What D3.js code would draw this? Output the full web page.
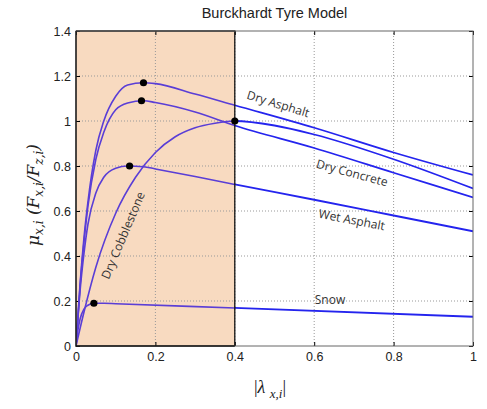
<!DOCTYPE html>
<html>
<head>
<meta charset="utf-8">
<script src="https://cdn.jsdelivr.net/npm/d3@7"></script>
<style>
  body { margin: 0; background: #fff; }
  svg { display: block; font-family: "Liberation Sans", Arial, sans-serif; }
</style>
</head>
<body>
<svg id="chart" width="487" height="409"></svg>
<script>
// Values
const slipGrid = [0, 0.01, 0.02, 0.03, 0.05, 0.07, 0.1, 0.13, 0.17, 0.2, 0.3, 0.4, 0.6, 0.8, 1.0];
const muDryAsphalt = [0, 0.27, 0.48, 0.64, 0.87, 1.0, 1.11, 1.16, 1.17, 1.166, 1.12, 1.07, 0.97, 0.86, 0.76];
const muDryConcrete = [0, 0.26, 0.46, 0.62, 0.83, 0.95, 1.05, 1.08, 1.09, 1.082, 1.04, 0.98, 0.88, 0.77, 0.66];
const muWetAsphalt = [0, 0.24, 0.41, 0.54, 0.68, 0.75, 0.79, 0.80, 0.797, 0.787, 0.753, 0.718, 0.65, 0.58, 0.51];

const slipCobble = [0, 0.02, 0.05, 0.1, 0.15, 0.2, 0.25, 0.3, 0.35, 0.4, 0.5, 0.6, 0.8, 1.0];
const muCobble = [0, 0.15, 0.35, 0.59, 0.75, 0.86, 0.93, 0.97, 0.99, 1.0, 0.98, 0.94, 0.83, 0.70];

const slipSnow = [0, 0.005, 0.01, 0.02, 0.03, 0.045, 0.07, 0.1, 0.4, 1.0];
const muSnow = [0, 0.073, 0.118, 0.164, 0.181, 0.19, 0.19, 0.188, 0.169, 0.13];

const peakSlip = [0.17, 0.165, 0.135, 0.40, 0.045];
const peakMu = [1.17, 1.09, 0.80, 1.00, 0.19];

const xTicks = [0, 0.2, 0.4, 0.6, 0.8, 1];
const yTicks = [0, 0.2, 0.4, 0.6, 0.8, 1, 1.2, 1.4];
const stableLimit = 0.4;

const W = 487, H = 409;
const margin = { top: 31, right: 14, bottom: 63, left: 76 };

const svg = d3.select("#chart");

const x = d3.scaleLinear().domain([0, 1]).range([margin.left, W - margin.right]);
const y = d3.scaleLinear().domain([0, 1.4]).range([H - margin.bottom, margin.top]);

const curves = [
  { xs: slipGrid, ys: muDryAsphalt },
  { xs: slipGrid, ys: muDryConcrete },
  { xs: slipGrid, ys: muWetAsphalt },
  { xs: slipCobble, ys: muCobble },
  { xs: slipSnow, ys: muSnow }
];

const defs = svg.append("defs");
defs.append("clipPath").attr("id", "clip-in")
  .append("rect")
  .attr("x", x(0)).attr("y", y(1.4))
  .attr("width", x(stableLimit) - x(0)).attr("height", y(0) - y(1.4));
defs.append("clipPath").attr("id", "clip-out")
  .append("rect")
  .attr("x", x(stableLimit)).attr("y", y(1.4))
  .attr("width", x(1) - x(stableLimit)).attr("height", y(0) - y(1.4));

// Title
svg.append("text")
  .attr("x", (x(0) + x(1)) / 2).attr("y", 18)
  .attr("text-anchor", "middle")
  .style("font-size", "14.5px")
  .style("fill", "#222")
  .text("Burckhardt Tyre Model");

// Shaded stable region
svg.append("rect")
  .attr("x", x(0)).attr("y", y(1.4))
  .attr("width", x(stableLimit) - x(0)).attr("height", y(0) - y(1.4))
  .style("fill", "#f8dac0");

// Grid
const grid = svg.append("g");
grid.selectAll(".gx").data(xTicks.filter(d => d > 0 && d < 1)).join("line")
  .attr("x1", d => x(d)).attr("x2", d => x(d))
  .attr("y1", y(0)).attr("y2", y(1.4))
  .style("stroke", "#999").style("stroke-dasharray", "1,2");
grid.selectAll(".gy").data(yTicks.filter(d => d > 0 && d < 1.4)).join("line")
  .attr("y1", d => y(d)).attr("y2", d => y(d))
  .attr("x1", x(0)).attr("x2", x(1))
  .style("stroke", "#999").style("stroke-dasharray", "1,2");

// Axes
const xAxis = d3.axisBottom(x).tickValues(xTicks).tickSize(-4).tickPadding(6)
  .tickFormat(d => d === 0 || d === 1 ? d : d3.format(".1f")(d));
const yAxis = d3.axisLeft(y).tickValues(yTicks).tickSize(-4).tickPadding(5)
  .tickFormat(d => d === 0 || d === 1 ? d : d3.format(".1f")(d));

svg.append("g").attr("transform", `translate(0,${y(0)})`).call(xAxis)
  .call(g => g.select(".domain").remove())
  .call(g => g.selectAll("text").style("font-size", "12.5px").style("fill", "#222")
    .style("font-family", "Liberation Sans, Arial, sans-serif"));
svg.append("g").attr("transform", `translate(${x(0)},0)`).call(yAxis)
  .call(g => g.select(".domain").remove())
  .call(g => g.selectAll("text").style("font-size", "12.5px").style("fill", "#222")
    .style("font-family", "Liberation Sans, Arial, sans-serif"));
// ticks on top and right
svg.append("g").attr("transform", `translate(0,${y(1.4)})`)
  .call(d3.axisTop(x).tickValues(xTicks).tickSize(-4).tickFormat(""))
  .call(g => g.select(".domain").remove());
svg.append("g").attr("transform", `translate(${x(1)},0)`)
  .call(d3.axisRight(y).tickValues(yTicks).tickSize(-4).tickFormat(""))
  .call(g => g.select(".domain").remove());

// Curves
const line = d3.line()
  .x(d => x(d[0])).y(d => y(d[1]))
  .curve(d3.curveMonotoneX);

curves.forEach(c => {
  const pts = c.xs.map((v, i) => [v, c.ys[i]]);
  svg.append("path").datum(pts).attr("d", line)
    .attr("clip-path", "url(#clip-in)")
    .style("fill", "none").style("stroke", "#5a3ed6").style("stroke-width", 1.6);
  svg.append("path").datum(pts).attr("d", line)
    .attr("clip-path", "url(#clip-out)")
    .style("fill", "none").style("stroke", "#2424ee").style("stroke-width", 1.8);
});

// Border of the shaded region
svg.append("path")
  .attr("d", `M${x(0)},${y(1.4)}H${x(stableLimit)}V${y(0)}`)
  .style("fill", "none").style("stroke", "#111").style("stroke-width", 1.3);

// Plot frame
svg.append("rect")
  .attr("x", x(0)).attr("y", y(1.4))
  .attr("width", x(1) - x(0)).attr("height", y(0) - y(1.4))
  .style("fill", "none").style("stroke", "#666").style("stroke-width", 1);
svg.append("path")
  .attr("d", `M${x(0)},${y(1.4)}V${y(0)}H${x(stableLimit)}`)
  .style("fill", "none").style("stroke", "#111").style("stroke-width", 1.3);

// Peak markers
svg.selectAll(".peak").data(peakSlip).join("circle")
  .attr("cx", d => x(d))
  .attr("cy", (d, i) => y(peakMu[i]))
  .attr("r", 3.6)
  .style("fill", "#000");

// Curve labels
const labels = [
  { t: "Dry Asphalt", x: 277, y: 108, a: 17, s: 12 },
  { t: "Dry Concrete", x: 351, y: 177, a: 15, s: 12 },
  { t: "Wet Asphalt", x: 351, y: 224, a: 11, s: 12 },
  { t: "Snow", x: 330, y: 304, a: 0, s: 12 },
  { t: "Dry Cobblestone", x: 127, y: 237, a: -67, s: 12 }
];
svg.selectAll(".lbl").data(labels).join("text")
  .attr("transform", d => `translate(${d.x},${d.y}) rotate(${d.a})`)
  .attr("text-anchor", "middle")
  .style("font-family", "Open Sans, sans-serif")
  .style("font-size", d => d.s + "px")
  .style("fill", "#333")
  .text(d => d.t);

// Y axis label
const yl = svg.append("text")
  .attr("transform", "translate(39,195) rotate(-90)")
  .attr("text-anchor", "middle")
  .style("font-family", "DejaVu Serif, Liberation Serif, serif")
  .style("font-style", "italic")
  .style("font-size", "17px")
  .style("fill", "#222");
yl.append("tspan").text("μ");
yl.append("tspan").attr("dy", 4).style("font-size", "12px").text("x,i");
yl.append("tspan").attr("dy", -4).text(" (F");
yl.append("tspan").attr("dy", 4).style("font-size", "12px").text("x,i");
yl.append("tspan").attr("dy", -4).text("/F");
yl.append("tspan").attr("dy", 4).style("font-size", "12px").text("z,i");
yl.append("tspan").attr("dy", -4).text(")");

// X axis label
const xl = svg.append("text")
  .attr("x", 270).attr("y", 393)
  .attr("text-anchor", "middle")
  .style("font-family", "Liberation Serif, serif")
  .style("font-size", "18px")
  .style("fill", "#222");
xl.append("tspan").text("|");
xl.append("tspan").style("font-style", "italic").text("λ ");
xl.append("tspan").attr("dy", 5).style("font-style", "italic").style("font-size", "13px").text("x,i");
xl.append("tspan").attr("dy", -5).text("|");
</script>
</body>
</html>
